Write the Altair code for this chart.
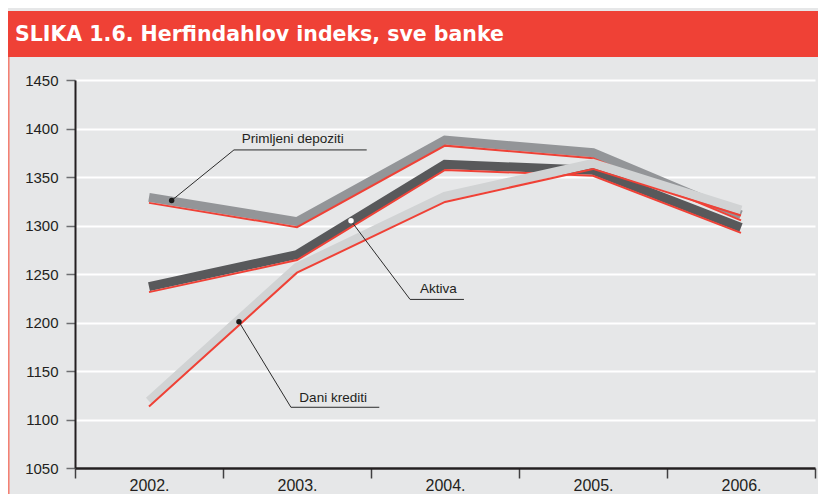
import altair as alt
import pandas as pd

# ---------------- data ----------------
years = [2002, 2003, 2004, 2005, 2006]
primljeni_depoziti = [1329, 1304, 1388, 1375, 1311]
aktiva = [1237, 1270, 1363, 1357, 1298]
dani_krediti = [1119, 1257, 1330, 1364, 1316]

series_names = ["Primljeni depoziti", "Aktiva", "Dani krediti"]
series_values = [primljeni_depoziti, aktiva, dani_krediti]

y_ticks = [1050, 1100, 1150, 1200, 1250, 1300, 1350, 1400, 1450]
x_bounds = [2001.5, 2002.5, 2003.5, 2004.5, 2005.5, 2006.5]
title_text = "SLIKA 1.6. Herfindahlov indeks, sve banke"

# annotation leaders (dot -> elbow -> end), in data units
leader_x = [[2002.153, 2002.574, 2003.471],
            [2003.365, 2003.764, 2004.128],
            [2002.608, 2002.959, 2003.556]]
leader_y = [[1325.8, 1377.9, 1377.9],
            [1304.8, 1223.8, 1223.8],
            [1200.7, 1112.6, 1112.6]]
label_x = [2002.626, 2003.831, 2003.016]
label_y = [1384.7, 1229.9, 1118.0]

# ---------------- styles ----------------
BG = "#E6E7E8"
RED = "#EF4136"
TEXT = "#231F20"
line_colors = ["#939598", "#58595B", "#D1D3D4"]
dot_colors = ["#1A1A1A", "#FFFFFF", "#1A1A1A"]

W, H = 740, 388

x_scale = alt.Scale(domain=[2001.5, 2006.5], nice=False, zero=False)
y_scale = alt.Scale(domain=[1050, 1450], nice=False, zero=False)

x_axis = alt.Axis(
    values=x_bounds,
    labelExpr="datum.value < 2006 ? format(datum.value + 0.5, 'd') + '.' : ''",
    labelOffset=74, labelFlush=False, labelOverlap=False,
    tickSize=10, tickColor="#414042", tickWidth=1.5,
    domainColor=TEXT, domainWidth=2.5,
    labelFont="Liberation Sans", labelFontSize=16, labelColor=TEXT,
    labelBaseline="alphabetic", labelPadding=12, grid=False, title=None,
)
y_axis = alt.Axis(
    values=y_ticks, format="d", grid=True, gridColor="#FFFFFF", gridWidth=2,
    domainColor=TEXT, domainWidth=2,
    tickSize=9, tickColor="#6D6E71", tickWidth=1.5,
    labelFont="Liberation Sans", labelFontSize=15, labelColor=TEXT,
    labelPadding=8, title=None,
)

X = lambda f: alt.X(f, type="quantitative", scale=x_scale, axis=x_axis)
Y = lambda f: alt.Y(f, type="quantitative", scale=y_scale, axis=y_axis)

one = alt.Data(values=[{"a": 1}])

# title banner and left border (decoration)
banner = alt.Chart(one).mark_rect(color=RED).encode(
    x=alt.value(-67), x2=alt.value(W + 3), y=alt.value(-69), y2=alt.value(-23)
)
banner_text = alt.Chart(one).mark_text(
    text=title_text, align="left", baseline="alphabetic",
    font="DejaVu Sans", fontWeight="bold", fontSize=20.5, color="#FFFFFF"
).encode(x=alt.value(-60), y=alt.value(-39.3))
left_border = alt.Chart(one).mark_rule(color="#F47C6E", strokeWidth=1.5).encode(
    x=alt.value(-66.2), y=alt.value(-23), y2=alt.value(H + 26)
)

layers = [banner, banner_text, left_border]

for name, vals, col in zip(series_names, series_values, line_colors):
    df = pd.DataFrame({"year": years, "value": vals, "series": name})
    base = alt.Chart(df).encode(x=X("year"), y=Y("value"))
    layers.append(base.mark_line(color=col, strokeWidth=9, strokeCap="butt", strokeJoin="miter"))
    layers.append(base.mark_line(color=RED, strokeWidth=2, yOffset=5.5, strokeCap="butt", strokeJoin="miter"))

# leaders
rows = []
for name, lx, ly in zip(series_names, leader_x, leader_y):
    for i, (a, b) in enumerate(zip(lx, ly)):
        rows.append({"name": name, "step": i, "lx": a, "ly": b})
leader_df = pd.DataFrame(rows)
layers.append(
    alt.Chart(leader_df).mark_line(color="#2B2B2B", strokeWidth=1).encode(
        x=X("lx"), y=Y("ly"), detail="name:N", order="step:Q"
    )
)
dot_df = pd.DataFrame({
    "name": series_names,
    "dx": [lx[0] for lx in leader_x],
    "dy": [ly[0] for ly in leader_y],
    "dcol": dot_colors,
})
layers.append(
    alt.Chart(dot_df).mark_circle(size=30, opacity=1).encode(
        x=X("dx"), y=Y("dy"), color=alt.Color("dcol:N", scale=None)
    )
)
lab_df = pd.DataFrame({"name": series_names, "tx": label_x, "ty": label_y})
layers.append(
    alt.Chart(lab_df).mark_text(
        align="left", baseline="alphabetic",
        font="Liberation Sans", fontSize=13.5, color=TEXT
    ).encode(x=X("tx"), y=Y("ty"), text="name:N")
)

chart = alt.layer(*layers).properties(
    width=W, height=H,
    autosize=alt.AutoSizeParams(type="none"),
    padding={"left": 67, "top": 72, "right": 3, "bottom": 26},
    background=BG,
).configure_view(stroke=None)

chart.save("out.html", embed_options={"renderer": "svg", "actions": False})
